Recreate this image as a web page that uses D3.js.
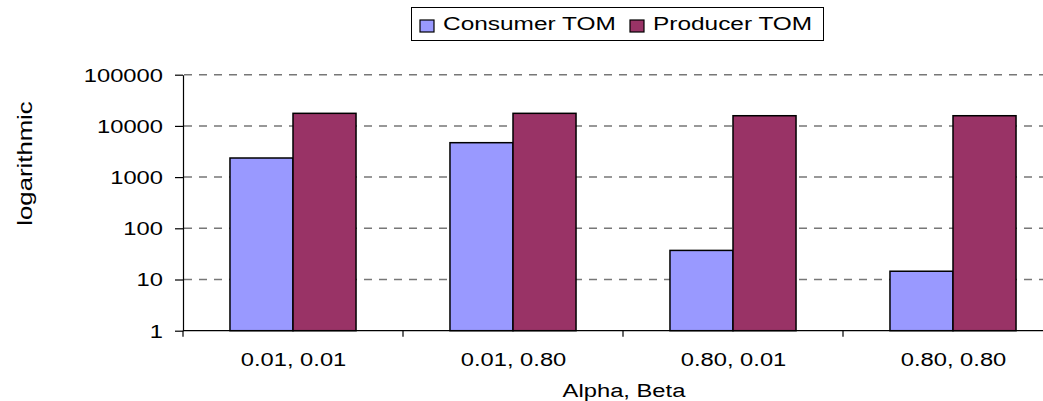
<!DOCTYPE html>
<html><head><meta charset="utf-8">
<script src="https://cdn.jsdelivr.net/npm/d3@7"></script>
<style>
html,body{margin:0;padding:0;background:#fff;}
svg{display:block;font-family:"Liberation Sans",Arial,sans-serif;}
</style></head>
<body>
<svg id="c" width="1043" height="401"></svg>
<script>
const categories = ["0.01, 0.01", "0.01, 0.80", "0.80, 0.01", "0.80, 0.80"];
const seriesNames = ["Consumer TOM", "Producer TOM"];
const consumerValues = [2360, 4700, 37, 14.5];
const producerValues = [17600, 17600, 15800, 15800];
const yTickValues = [1, 10, 100, 1000, 10000, 100000];
const colors = ["#9999FF", "#993366"];
const xTitle = "Alpha, Beta";
const yTitle = "logarithmic";

(function () {
const SX = 1.32; // horizontal text stretch
const svg = d3.select("#c");
const pLeft = 183, pRight = 1063, pTop = 74.7, pBottom = 330.7;

const y = d3.scaleLog().domain([1, 100000]).range([pBottom, pTop]);
const x0 = d3.scaleBand().domain(categories).range([pLeft, pRight])
  .paddingInner(0.427).paddingOuter(0.2135);
const x1 = d3.scaleBand().domain(seriesNames).range([0, x0.bandwidth()]);

// gridlines
svg.append("g").selectAll("line").data(yTickValues.slice(1)).join("line")
  .attr("x1", pLeft + 1).attr("x2", 1043)
  .attr("y1", d => y(d)).attr("y2", d => y(d))
  .attr("stroke", "#777").attr("stroke-width", 1.5)
  .attr("stroke-dasharray", "8,7");

// bars
const data = categories.map((c, i) => ({cat: c, vals: [consumerValues[i], producerValues[i]]}));
const groups = svg.append("g").selectAll("g").data(data).join("g")
  .attr("transform", d => `translate(${x0(d.cat)},0)`);
groups.selectAll("rect").data(d => d.vals.map((v, j) => ({name: seriesNames[j], v, j})))
  .join("rect")
  .attr("x", d => x1(d.name)).attr("width", x1.bandwidth())
  .attr("y", d => y(d.v)).attr("height", d => pBottom - y(d.v))
  .attr("fill", d => colors[d.j]).attr("stroke", "#000").attr("stroke-width", 1.5);

// y axis
const yAxis = svg.append("g").attr("transform", `translate(${pLeft},0)`)
  .call(d3.axisLeft(y).tickValues(yTickValues).tickFormat(d3.format("d")).tickSize(8).tickSizeOuter(0));
yAxis.select(".domain").attr("stroke", "#000").attr("stroke-width", 1.2);
yAxis.selectAll(".tick line").attr("stroke", "#000").attr("stroke-width", 1.2);
yAxis.selectAll(".tick text")
  .attr("x", 0).attr("dy", "0.35em")
  .attr("transform", `translate(-20,0) scale(${SX},1)`)
  .attr("font-size", 18).attr("fill", "#000")
  .attr("font-family", "Liberation Sans, Arial, sans-serif");
svg.append("line").attr("x1", pLeft).attr("x2", pLeft).attr("y1", pBottom).attr("y2", pBottom + 6)
  .attr("stroke", "#000").attr("stroke-width", 1.2);

// x axis
const xAxisScale = d3.scalePoint().domain(categories).range([pLeft + 110, pRight - 110]);
const xAxis = svg.append("g").attr("transform", `translate(0,${pBottom})`)
  .call(d3.axisBottom(xAxisScale).tickSize(0).tickSizeOuter(0));
xAxis.select(".domain").remove();
svg.append("line").attr("x1", pLeft).attr("x2", 1043).attr("y1", pBottom).attr("y2", pBottom)
  .attr("stroke", "#000").attr("stroke-width", 1.2);
svg.append("g").selectAll("line").data(categories.slice(1)).join("line")
  .attr("x1", d => x0(d) - x0.step() * x0.paddingInner() / 2)
  .attr("x2", d => x0(d) - x0.step() * x0.paddingInner() / 2)
  .attr("y1", pBottom).attr("y2", pBottom + 6)
  .attr("stroke", "#000").attr("stroke-width", 1.2);
xAxis.selectAll(".tick text")
  .attr("y", 0).attr("dy", 0)
  .attr("transform", `translate(0,35) scale(${SX},1)`)
  .attr("font-size", 18).attr("fill", "#000")
  .attr("font-family", "Liberation Sans, Arial, sans-serif");

// axis titles
svg.append("text").attr("transform", `translate(624,397) scale(${SX},1)`)
  .attr("text-anchor", "middle").attr("font-size", 18).text(xTitle);
svg.append("text").attr("transform", `translate(32,163.5) rotate(-90) scale(${SX},1)`)
  .attr("text-anchor", "middle").attr("font-size", 19.5).text(yTitle);

// legend
const lg = svg.append("g");
lg.append("rect").attr("x", 411.5).attr("y", 7.5).attr("width", 412).attr("height", 33)
  .attr("fill", "#fff").attr("stroke", "#000").attr("stroke-width", 1);
const legendX = [420, 630];
seriesNames.forEach((n, i) => {
  lg.append("rect").attr("x", legendX[i]).attr("y", 20).attr("width", 14).attr("height", 12)
    .attr("fill", colors[i]).attr("stroke", "#000").attr("stroke-width", 1.2);
  lg.append("text").attr("transform", `translate(${legendX[i] + 23},30) scale(${SX},1)`)
    .attr("font-size", 18.5).text(n);
});
})();
</script>
</body></html>
